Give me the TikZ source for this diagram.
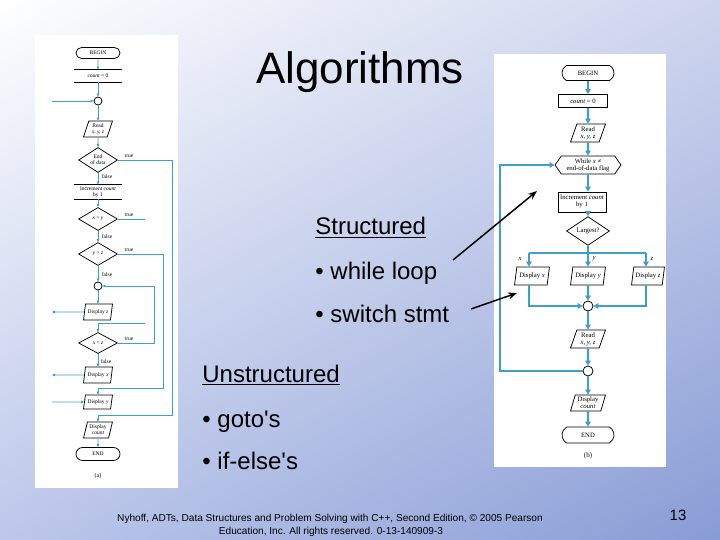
\documentclass[tikz,border=0pt]{standalone}
\usepackage{fontspec}
\setmainfont{Liberation Sans}
\newfontfamily\chartfont{Liberation Serif}
\usetikzlibrary{arrows.meta,calc,shadings,shapes.geometric,shapes.misc,shapes.symbols}

\definecolor{flowteal}{RGB}{60,160,200}
\definecolor{slidetr}{RGB}{206,213,238}
\definecolor{slidebl}{RGB}{188,199,234}
\definecolor{slidebr}{RGB}{136,156,213}

\tikzset{every picture/.style={line width=0.75pt}}
\tikzset{
	fonta/.style={font=\chartfont\fontsize{5.5}{6}\selectfont},
	fontb/.style={font=\chartfont\fontsize{6.7}{7}\selectfont},
	terma/.style={rounded rectangle, draw, fonta, inner sep=0pt, minimum width=44, minimum height=11},
	proca/.style={fonta, align=center, inner sep=0pt, minimum width=48},
	ioa/.style={trapezium, trapezium left angle=72, trapezium right angle=108, trapezium stretches=true, draw, fonta, align=center, inner sep=0pt, minimum width=29, minimum height=16},
	deca/.style={diamond, draw, fonta, align=center, inner sep=0pt, minimum width=39, minimum height=23},
	joina/.style={circle, draw, inner sep=0pt, minimum size=8},
	linea/.style={draw=flowteal, line width=0.7pt},
	arra/.style={linea, -{Triangle[length=3pt,width=2.6pt]}},
	terminal b/.style={rounded rectangle, rounded rectangle arc length=120, draw, fontb, inner sep=0pt, minimum width=52, minimum height=15},
	procb/.style={rectangle, draw, fontb, align=center, inner sep=0pt},
	iob/.style={trapezium, trapezium left angle=72, trapezium right angle=108, trapezium stretches=true, draw, fontb, align=center, inner sep=0pt, minimum width=35, minimum height=18},
	decb/.style={diamond, draw, fontb, inner sep=0pt, minimum width=43, minimum height=19},
	whileb/.style={signal, signal to=west and east, signal pointer angle=110, draw, fontb, align=center, inner sep=0pt, minimum width=66, minimum height=18},
	joinb/.style={circle, draw, inner sep=0pt, minimum size=10},
	lineb/.style={draw=flowteal, line width=2.2pt},
	arrb/.style={lineb, -{Triangle[length=5pt,width=5.5pt]}},
	pointer/.style={line width=1.5pt, -{Stealth[length=9pt,width=7pt]}},
	slidetext/.style={font=\fontsize{24}{28}\selectfont, anchor=base west, inner sep=0pt}
}

\begin{document}
\begin{tikzpicture}[x=1pt,y=1pt,yscale=-1]
	\useasboundingbox (0,0) rectangle (720,540);

	%Shape: Slide background
	\shade[upper left=white, upper right=slidetr, lower left=slidebl, lower right=slidebr] (0,0) rectangle (720,540);
	%Shape: Figure panels
	\fill[white] (35,35) rectangle (178,488);
	\fill[white] (494,54) rectangle (666,467);

	% Text Node
	\node[font=\fontsize{44}{50}\selectfont, anchor=base] (title) at (360,84) {Algorithms};

	%% ---------- flowchart (a) ----------
	\node[terma] (beginA) at (98,53) {BEGIN};
	\node[proca, minimum height=12] (countA) at (98,76) {\textit{count} = 0};
	\node[joina] (joinA) at (98,101) {};
	\node[ioa] (readA) at (98,129) {Read\\\textit{x, y, z}};
	\node[deca] (eodA) at (98,160) {End\\of data};
	\node[proca, minimum height=14] (incA) at (98,192) {Increment \textit{count}\\by 1};
	\node[deca] (xyA) at (98,219) {\textit{x} \textgreater{} \textit{y}};
	\node[deca] (yzA) at (98,254) {\textit{y} \textgreater{} \textit{z}};
	\node[joina] (joinB) at (98,286) {};
	\node[ioa] (dispzA) at (98,312) {Display \textit{z}};
	\node[deca, minimum height=21] (xzA) at (98,343) {\textit{x} \textless{} \textit{z}};
	\node[ioa] (dispxA) at (98,375) {Display \textit{x}};
	\node[ioa, minimum height=14] (dispyA) at (98,402) {Display \textit{y}};
	\node[ioa] (dispcA) at (98,430) {Display\\\textit{count}};
	\node[terma, minimum height=13] (endA) at (98,454) {END};
	\node[font=\chartfont\fontsize{6}{7}\selectfont] (capA) at (98,476) {(a)};

	%Straight Lines: process boxes of (a)
	\draw (countA.north west) -- (countA.north east);
	\draw (countA.south west) -- (countA.south east);
	\draw (incA.north west) -- (incA.north east);
	\draw (incA.south west) -- (incA.south east);

	% Text Node: branch labels
	\node[fonta] (tEod) at (129,156) {true};
	\node[fonta] (fEod) at (107,177) {false};
	\node[fonta] (tXy) at (129,215) {true};
	\node[fonta] (fXy) at (107,237) {false};
	\node[fonta] (tYz) at (129,250) {true};
	\node[fonta] (fYz) at (107,275) {false};
	\node[fonta] (tXz) at (129,339) {true};
	\node[fonta] (fXz) at (106,362) {false};

	%Straight Lines: main flow of (a)
	\draw[arra] (beginA) -- (countA);
	\draw[arra] (countA) -- (joinA);
	\draw[arra] (joinA) -- (readA);
	\draw[arra] (readA) -- (eodA);
	\draw[arra] (eodA) -- (incA);
	\draw[arra] (incA) -- (xyA);
	\draw[arra] (xyA) -- (yzA);
	\draw[arra] (yzA) -- (joinB);
	\draw[arra] (joinB) -- (dispzA);
	\draw[arra] (xzA) -- (dispxA);
	\draw[arra] (dispcA) -- (endA);

	%Straight Lines: branches of (a)
	\coordinate (railEod) at (172,415);
	\coordinate (railYz) at (163,388);
	\coordinate (railXz) at (154,286);
	\coordinate (stubXy) at (145,219);
	\coordinate (gotoXz) at (145,323);
	\coordinate (inJoin) at (52,101);
	\coordinate (outZ) at (52,312);
	\coordinate (outX) at (52,375);
	\coordinate (inY) at (52,402);
	\draw[arra] (eodA.east) -| (railEod) -| (dispcA.north);
	\draw[arra] (yzA.east) -| (railYz) -| (dispyA.north);
	\draw[arra] (xzA.east) -| (railXz) -- (joinB.east);
	\draw[linea] (xyA.east) -- (stubXy);
	\draw[arra] (gotoXz) -| (xzA.north);
	\draw[arra] (inJoin) -- (joinA.west);
	\draw[arra] (dispzA.west) -- (outZ);
	\draw[arra] (dispxA.west) -- (outX);
	\draw[arra] (inY) -- (dispyA.west);

	%% ---------- flowchart (b) ----------
	\node[terminal b] (beginB) at (588,73) {BEGIN};
	\node[procb, minimum width=49, minimum height=13] (countB) at (583,101) {\textit{count} = 0};
	\node[iob] (readB) at (588,133) {Read\\\textit{x, y, z}};
	\node[whileb] (whileB) at (588,165) {While \textit{x} ≠\\end-of-data flag};
	\node[procb, minimum width=48, minimum height=20] (incB) at (582,202) {Increment \textit{count}\\by 1};
	\node[decb] (largB) at (588,231) {Largest?};
	\node[iob] (dispxB) at (532,276) {Display \textit{x}};
	\node[iob] (dispyB) at (588,276) {Display \textit{y}};
	\node[iob, minimum width=33] (dispzB) at (648,276) {Display \textit{z}};
	\node[joinb] (joinC) at (588,306) {};
	\node[iob] (readB2) at (588,339) {Read\\\textit{x, y, z}};
	\node[joinb] (joinD) at (588,371) {};
	\node[iob, minimum height=16] (dispcB) at (588,403) {Display\\\textit{count}};
	\node[terminal b, minimum height=16] (endB) at (588,435) {END};
	\node[font=\chartfont\fontsize{7}{8}\selectfont] (capB) at (588,456) {(b)};

	% Text Node: case labels
	\node[fontb] (caseX) at (520,259) {\textit{x}};
	\node[fontb] (caseY) at (594,259) {\textit{y}};
	\node[fontb] (caseZ) at (652,259) {\textit{z}};

	%Straight Lines: main flow of (b)
	\draw[arrb] (beginB.south) -- (beginB.south |- countB.north);
	\draw[arrb] (beginB.south |- countB.south) -- (readB.north);
	\draw[arrb] (readB) -- (whileB);
	\draw[arrb] (whileB.south) -- (whileB.south |- incB.north);
	\draw[arrb] (whileB.south |- incB.south) -- (largB.north);
	\draw[arrb] (largB) -- (dispyB);
	\draw[arrb] (dispyB) -- (joinC);
	\draw[arrb] (joinC) -- (readB2);
	\draw[arrb] (readB2) -- (joinD);
	\draw[arrb] (joinD) -- (dispcB);
	\draw[arrb] (dispcB) -- (endB);

	%Straight Lines: switch and loop of (b)
	\coordinate (caseBarX) at (529,253);
	\coordinate (caseBarZ) at (646,253);
	\coordinate (loopB) at (500,371);
	\draw[lineb] (caseBarX) -- (caseBarZ);
	\draw[arrb] (caseBarX) -- (caseBarX |- dispxB.north);
	\draw[arrb] (caseBarZ) -- (caseBarZ |- dispzB.north);
	\draw[arrb] (caseBarX |- dispxB.south) |- (joinC.west);
	\draw[arrb] (caseBarZ |- dispzB.south) |- (joinC.east);
	\draw[arrb] (joinD.west) -- (loopB) |- (whileB.west);

	%% ---------- slide text ----------
	\node[slidetext] (structured) at (315,235) {Structured};
	\draw[line width=1.5pt] ($(structured.base west)+(0,2.5)$) -- ($(structured.base east)+(0,2.5)$);
	\node[slidetext] (whileItem) at (315,279) {• while loop};
	\node[slidetext] (switchItem) at (315,322) {• switch stmt};
	\node[slidetext] (unstructured) at (202,382) {Unstructured};
	\draw[line width=1.5pt] ($(unstructured.base west)+(0,2.5)$) -- ($(unstructured.base east)+(0,2.5)$);
	\node[slidetext] (gotoItem) at (202,427) {• goto\textquotesingle s};
	\node[slidetext] (ifItem) at (202,469) {• if-else\textquotesingle s};

	%Straight Lines: pointers to flowchart (b)
	\coordinate (whileTail) at (453,260);
	\coordinate (whileHead) at (537,191);
	\coordinate (switchTail) at (471,309);
	\coordinate (switchHead) at (517,293);
	\draw[pointer] (whileTail) -- (whileHead);
	\draw[pointer] (switchTail) -- (switchHead);

	% Text Node: footer
	\node[font=\fontsize{10.1}{11}\selectfont, anchor=base] (credit) at (330,521) {Nyhoff, ADTs, Data Structures and Problem Solving with C++, Second Edition, © 2005 Pearson};
	\node[font=\fontsize{10.1}{11}\selectfont, anchor=base] (rights) at (331,534) {Education, Inc. All rights reserved. 0-13-140909-3};
	\node[font=\fontsize{15}{18}\selectfont] (pagenum) at (678,515) {13};

\end{tikzpicture}
\end{document}
